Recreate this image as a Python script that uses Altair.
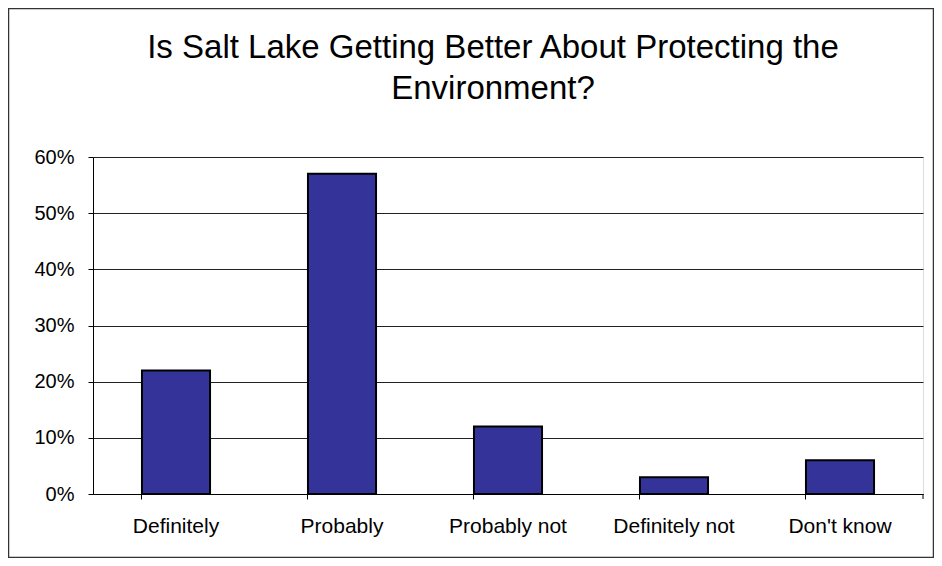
import altair as alt
import pandas as pd

categories = ["Definitely", "Probably", "Probably not", "Definitely not", "Don't know"]
shares = [0.22, 0.57, 0.12, 0.03, 0.06]

df = pd.DataFrame({"answer": categories, "share": shares})

W, H = 830, 337
FONT = "Liberation Sans"

base = alt.Chart(df)

bars = base.mark_bar(color="#333399", stroke="#000000", strokeWidth=2).encode(
    x=alt.X("answer:N", sort=categories, title=None,
            scale=alt.Scale(paddingInner=0.59, paddingOuter=0.295),
            axis=alt.Axis(labelAngle=0, bandPosition=0, tickSize=5, labelPadding=16,
                          labelFontSize=21, labelFont=FONT, labelColor="#000000",
                          domainColor="#000000", tickColor="#000000", grid=False)),
    y=alt.Y("share:Q", title=None,
            scale=alt.Scale(domain=[0, 0.6], nice=False),
            axis=alt.Axis(format=".0%", values=[0, 0.1, 0.2, 0.3, 0.4, 0.5, 0.6],
                          tickSize=5, labelPadding=14, labelFontSize=20, labelFont=FONT,
                          labelColor="#000000", domainColor="#000000", tickColor="#000000",
                          grid=True, gridColor="#222222", gridWidth=1)),
)

end_tick = alt.Chart(alt.Data(values=[{}])).mark_rule(color="#000000").encode(
    x=alt.value(W), y=alt.value(H), y2=alt.value(H + 5)
)

border = alt.Chart(alt.Data(values=[{}])).mark_rect(
    fill="transparent", stroke="#333333", strokeWidth=1.5
).encode(
    x=alt.value(-84.5), x2=alt.value(840.5), y=alt.value(-148.5), y2=alt.value(400.5)
)

chart = alt.layer(bars, end_tick, border).properties(
    width=W, height=H,
    title=alt.TitleParams(
        ["Is Salt Lake Getting Better About Protecting the", "Environment?"],
        fontSize=33, font=FONT, fontWeight="normal", color="#000000",
        anchor="middle", lineHeight=41, offset=-98, dx=-15,
    ),
    autosize=alt.AutoSizeParams(type="none"),
    padding={"left": 85, "top": 149, "right": 11, "bottom": 64},
).configure_view(stroke=None).configure(background="#ffffff")

chart.save("out.html", embed_options={"renderer": "svg", "actions": False})
